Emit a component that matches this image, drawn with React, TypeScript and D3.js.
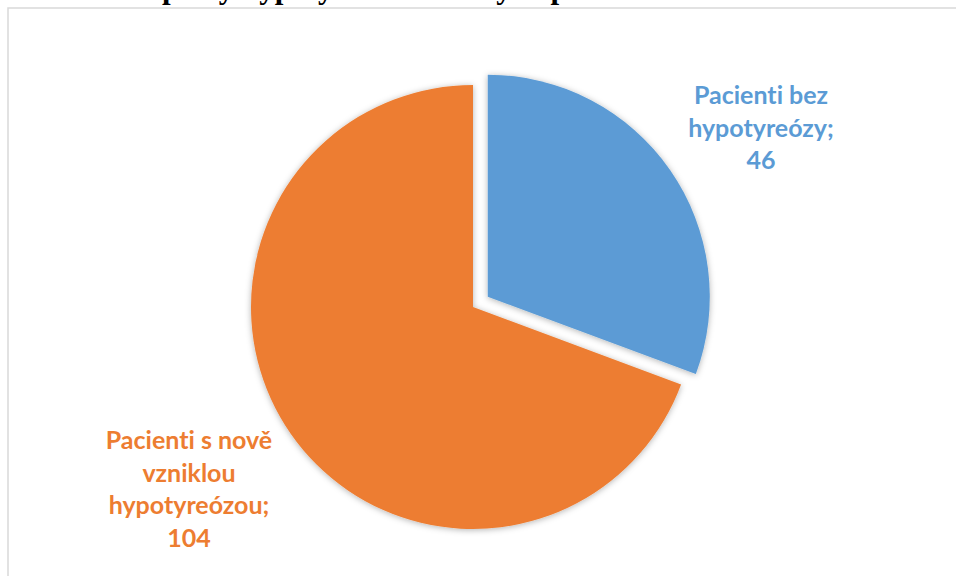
import React from "react";
import * as d3 from "d3";

const categories = ["Pacienti bez hypotyreózy", "Pacienti s nově vzniklou hypotyreózou"];
const values = [46, 104];
const labelLines = [
  ["Pacienti bez", "hypotyreózy;", "46"],
  ["Pacienti s nově", "vzniklou", "hypotyreózou;", "104"],
];
const colors = ["#5B9BD5", "#ED7D31"];
const titleHead = "Graf 1: Absolutní";
const titleTail = "počty hypotyreóz a zdravých pacientů";

export default function App() {
  const W = 956;
  const H = 576;
  const cx = 473;
  const cy = 307;
  const R = 222;
  const explode = [18, 0];

  const pie = d3
    .pie<number>()
    .sort(null)
    .startAngle(0)
    .endAngle(2 * Math.PI)
    .value((d) => d);
  const arcs = pie(values);
  const arc = d3.arc<d3.PieArcDatum<number>>().innerRadius(0).outerRadius(R);

  const labelPos = [
    { x: 761, y: 104 },
    { x: 189, y: 449 },
  ];
  const lineH = 32.5;

  return (
    <svg
      width={W}
      height={H}
      style={{ position: "absolute", left: 0, top: 0, background: "#fff" }}
    >
      <defs>
        <filter id="sh" x="-20%" y="-20%" width="140%" height="140%">
          <feDropShadow dx="0" dy="1" stdDeviation="3" floodColor="#000" floodOpacity="0.3" />
        </filter>
      </defs>
      <rect x={0} y={0} width={W} height={H} fill="#fff" />
      <text
        x={157}
        y={-2}
        textAnchor="end"
        fontFamily="'Liberation Serif', 'Times New Roman', serif"
        fontWeight="bold"
        fontSize={31}
        fill="#000"
      >
        {titleHead}
      </text>
      <text
        x={162}
        y={-2}
        fontFamily="'Liberation Serif', 'Times New Roman', serif"
        fontWeight="bold"
        fontSize={31}
        fill="#000"
      >
        {titleTail}
      </text>
      <rect
        x={8}
        y={8}
        width={W + 20}
        height={H + 20}
        fill="none"
        stroke="#d9d9d9"
        strokeWidth={1.5}
      />
      <g filter="url(#sh)">
        {arcs.map((a, i) => {
          const mid = (a.startAngle + a.endAngle) / 2;
          const dx = Math.sin(mid) * explode[i];
          const dy = -Math.cos(mid) * explode[i];
          return (
            <path
              key={categories[i]}
              d={arc(a) as string}
              transform={`translate(${cx + dx},${cy + dy})`}
              fill={colors[i]}
            />
          );
        })}
      </g>
      {labelLines.map((lines, i) => (
        <text
          key={categories[i]}
          x={labelPos[i].x}
          y={labelPos[i].y}
          textAnchor="middle"
          fontFamily="Lato, 'Open Sans', sans-serif"
          fontWeight="bold"
          fontSize={25}
          fill={colors[i]}
          style={{ fontVariantLigatures: "none" }}
        >
          {lines.map((l, j) => (
            <tspan key={j} x={labelPos[i].x} y={labelPos[i].y + j * lineH}>
              {l}
            </tspan>
          ))}
        </text>
      ))}
    </svg>
  );
}
